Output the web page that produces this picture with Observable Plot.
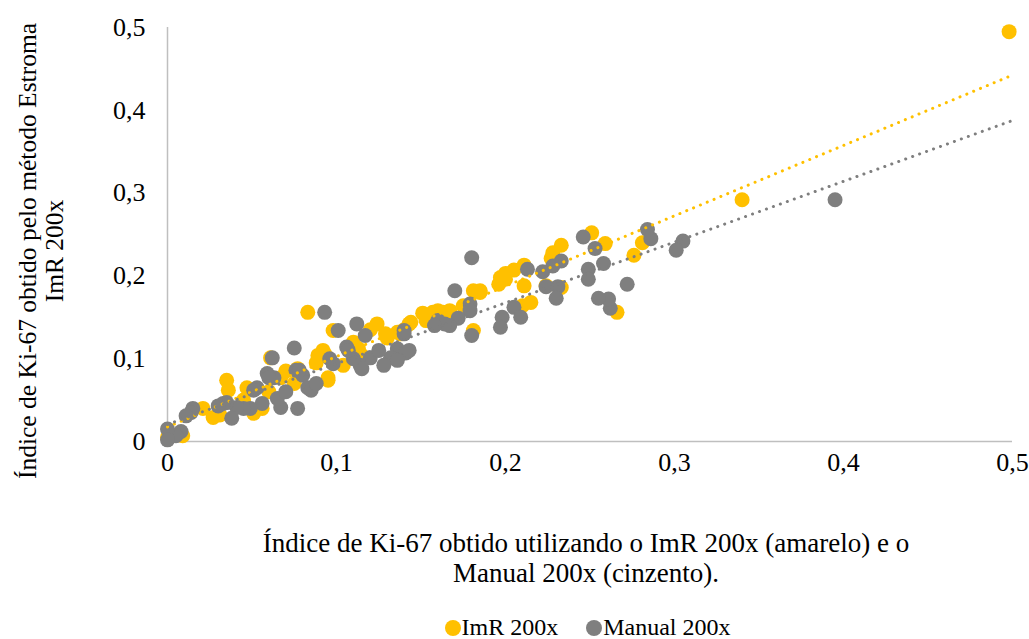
<!DOCTYPE html>
<html>
<head>
<meta charset="utf-8">
<script src="https://cdn.jsdelivr.net/npm/d3@7"></script>
<script src="https://cdn.jsdelivr.net/npm/@observablehq/plot@0.6"></script>
<style>
  html, body { margin: 0; padding: 0; background: #fff; }
  #wrap { position: relative; width: 1029px; height: 639px; overflow: hidden; font-family: "Liberation Serif", "Times New Roman", serif; color: #000; }
  #chart { position: absolute; left: 0; top: 0; }
  #ytitle { position: absolute; left: 41px; top: 251px; transform: translate(-50%, -50%) rotate(-90deg); white-space: nowrap; text-align: center; font-size: 25.5px; line-height: 27px; }
  #xtitle { position: absolute; left: 586px; top: 528px; transform: translateX(-50%); white-space: nowrap; text-align: center; font-size: 27px; line-height: 30px; }
  #legend { position: absolute; left: 73px; width: 1029px; top: 613px; height: 28px; line-height: 28px; text-align: center; font-size: 24px; white-space: nowrap; }
  #legend span.item { display: inline-block; margin: 0 14px; }
  #legend span.sw { display: inline-block; width: 16px; height: 16px; border-radius: 50%; vertical-align: -1px; margin-right: 1px; }
</style>
</head>
<body>
<div id="wrap">
  <div id="chart"></div>
  <div id="ytitle">Índice de Ki-67 obtido pelo método Estroma<br>ImR 200x</div>
  <div id="xtitle">Índice de Ki-67 obtido utilizando o ImR 200x (amarelo) e o<br>Manual 200x (cinzento).</div>
  <div id="legend"></div>
</div>
<script>
// Series names and colours
const seriesNames = ["ImR 200x", "Manual 200x"];
const seriesColors = ["#FFC000", "#7F7F7F"];

// ImR 200x (yellow) — x values
const imrX = [0.498, 0.340, 0.281, 0.276, 0.266, 0.259, 0.251, 0.233, 0.228, 0.227,
  0.233, 0.224, 0.211, 0.205, 0.200, 0.197, 0.211, 0.215, 0.210, 0.185,
  0.181, 0.175, 0.181, 0.163, 0.157, 0.151, 0.153, 0.144, 0.160, 0.143,
  0.138, 0.129, 0.124, 0.115, 0.113, 0.104, 0.098, 0.095, 0.092, 0.089,
  0.088, 0.083, 0.077, 0.067, 0.061, 0.056, 0.051, 0.047, 0.036, 0.035,
  0.027, 0.031, 0.021, 0.009, 0.000, 0.095, 0.093, 0.200, 0.196, 0.120,
  0.070, 0.140, 0.167, 0.045, 0.060, 0.075, 0.185, 0.110, 0.130, 0.136];
// ImR 200x (yellow) — y values
const imrY = [0.495, 0.292, 0.240, 0.225, 0.156, 0.239, 0.252, 0.237, 0.228, 0.221,
  0.186, 0.188, 0.213, 0.207, 0.203, 0.198, 0.188, 0.168, 0.164, 0.182,
  0.182, 0.164, 0.134, 0.156, 0.156, 0.155, 0.146, 0.144, 0.158, 0.142,
  0.130, 0.130, 0.142, 0.104, 0.112, 0.092, 0.134, 0.074, 0.110, 0.104,
  0.095, 0.156, 0.088, 0.077, 0.101, 0.040, 0.034, 0.065, 0.062, 0.074,
  0.029, 0.032, 0.040, 0.007, 0.005, 0.077, 0.106, 0.196, 0.190, 0.135,
  0.085, 0.135, 0.158, 0.050, 0.060, 0.070, 0.180, 0.120, 0.125, 0.132];

// Manual 200x (grey) — x values
const manX = [0.395, 0.305, 0.301, 0.286, 0.284, 0.272, 0.262, 0.261, 0.255, 0.258,
  0.253, 0.249, 0.249, 0.246, 0.233, 0.228, 0.231, 0.230, 0.222, 0.224,
  0.213, 0.205, 0.209, 0.198, 0.197, 0.180, 0.170, 0.179, 0.179, 0.180,
  0.172, 0.167, 0.164, 0.160, 0.158, 0.140, 0.140, 0.136, 0.141, 0.143,
  0.132, 0.136, 0.128, 0.120, 0.117, 0.112, 0.114, 0.115, 0.110, 0.106,
  0.107, 0.101, 0.096, 0.098, 0.093, 0.083, 0.085, 0.080, 0.076, 0.078,
  0.075, 0.077, 0.067, 0.065, 0.063, 0.059, 0.062, 0.060, 0.056, 0.053,
  0.051, 0.049, 0.045, 0.041, 0.038, 0.035, 0.033, 0.030, 0.015, 0.014,
  0.011, 0.008, 0.005, 0.000, 0.000, 0.070, 0.088, 0.125];
// Manual 200x (grey) — y values
const manY = [0.292, 0.242, 0.231, 0.245, 0.256, 0.190, 0.161, 0.172, 0.173, 0.215,
  0.233, 0.208, 0.196, 0.247, 0.218, 0.212, 0.187, 0.173, 0.205, 0.187,
  0.208, 0.162, 0.150, 0.150, 0.138, 0.222, 0.182, 0.166, 0.158, 0.128,
  0.149, 0.140, 0.142, 0.146, 0.140, 0.134, 0.130, 0.112, 0.107, 0.110,
  0.101, 0.098, 0.092, 0.101, 0.128, 0.142, 0.092, 0.088, 0.100, 0.114,
  0.110, 0.134, 0.100, 0.094, 0.156, 0.065, 0.062, 0.080, 0.086, 0.086,
  0.113, 0.040, 0.041, 0.052, 0.077, 0.082, 0.101, 0.077, 0.046, 0.065,
  0.062, 0.040, 0.040, 0.041, 0.028, 0.047, 0.046, 0.043, 0.040, 0.035,
  0.031, 0.012, 0.007, 0.015, 0.002, 0.060, 0.070, 0.110];

// Axis ticks
const xTicks = [0, 0.1, 0.2, 0.3, 0.4, 0.5];
const yTicks = [0, 0.1, 0.2, 0.3, 0.4, 0.5];
const fmt = d => d === 0 ? "0" : String(d).replace(".", ",");

const imr = imrX.map((x, i) => ({x, y: imrY[i]}));
const man = manX.map((x, i) => ({x, y: manY[i]}));

// least-squares trendline computed from the data, drawn across the axis range
function trend(data) {
  const mx = d3.mean(data, d => d.x), my = d3.mean(data, d => d.y);
  let sxy = 0, sxx = 0;
  for (const d of data) { sxy += (d.x - mx) * (d.y - my); sxx += (d.x - mx) ** 2; }
  const b = sxy / sxx, a = my - b * mx;
  return d3.range(0, 0.5001, 0.01).map(x => ({x, y: a + b * x}));
}

const chart = Plot.plot({
  width: 1029,
  height: 500,
  marginLeft: 167,
  marginRight: 17,
  marginTop: 27,
  marginBottom: 59,
  style: { fontFamily: "'Liberation Serif', 'Times New Roman', serif", fontSize: "26px", color: "#000", background: "#fff" },
  x: { domain: [0, 0.5], ticks: xTicks, tickFormat: fmt, tickSize: 0, tickPadding: 11, label: null },
  y: { domain: [0, 0.5], ticks: yTicks, tickFormat: fmt, tickSize: 0, tickPadding: 22, label: null },
  marks: [
    Plot.ruleY([0], { stroke: "#BFBFBF", strokeWidth: 1.5 }),
    Plot.ruleX([0], { stroke: "#BFBFBF", strokeWidth: 1.5 }),
    Plot.dot(imr, { x: "x", y: "y", r: 7.5, fill: seriesColors[0], stroke: "none" }),
    Plot.dot(man, { x: "x", y: "y", r: 7.5, fill: seriesColors[1], stroke: "none" }),
    Plot.line(trend(imr), { x: "x", y: "y", stroke: seriesColors[0], strokeWidth: 3, strokeDasharray: "0.1 7.3", strokeLinecap: "round" }),
    Plot.line(trend(man), { x: "x", y: "y", stroke: seriesColors[1], strokeWidth: 3, strokeDasharray: "0.1 7.3", strokeLinecap: "round" })
  ]
});
document.getElementById("chart").appendChild(chart);

const legend = document.getElementById("legend");
seriesNames.forEach((name, i) => {
  const item = document.createElement("span");
  item.className = "item";
  const sw = document.createElement("span");
  sw.className = "sw";
  sw.style.background = seriesColors[i];
  item.appendChild(sw);
  item.appendChild(document.createTextNode(name));
  legend.appendChild(item);
});
</script>
</body>
</html>
